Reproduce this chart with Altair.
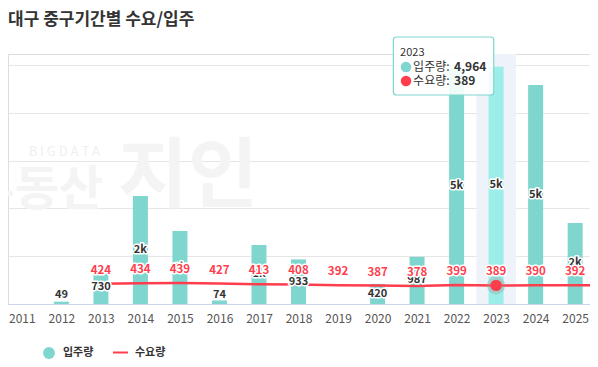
import altair as alt
import pandas as pd

# ---------------- data ----------------
years = list(range(2011, 2026))
supply = [None, 49, 730, 2260, 1525, 74, 1235, 933, None, 420, 987, 4940, 4964, 4580, 1695]
demand_years = list(range(2013, 2027))
demand = [424, 434, 439, 427, 413, 408, 392, 387, 378, 399, 389, 390, 392, 388]
x_ticks = list(range(2011, 2026))
y_grid = [1000, 2000, 3000, 4000, 5000]
hl_year = 2023
title_text = "대구 중구기간별 수요/입주"
supply_name = "입주량"
demand_name = "수요량"

TEAL = "#7fd6cf"
TEAL_HL = "#9deee8"
RED = "#ff3d4d"
FONT = "Noto Sans CJK KR"
WM = "#f4f4f4"

X_DOMAIN = [2010.776, 2025.249]
Y_DOMAIN = [0, 5230]

bars = pd.DataFrame({"year": years, "supply": supply}).dropna()
bars["label"] = bars["supply"].apply(lambda v: f"{round(v / 1000)}k" if v >= 1000 else f"{int(v)}")
bars["label_y"] = bars["supply"].apply(lambda v: max(v / 2, 190))
bars["state"] = bars["year"].apply(lambda y: "hover" if y == hl_year else "normal")

line = pd.DataFrame({"year": demand_years, "demand": demand})
line_lab = line[line["year"] <= 2025]
hl_sup = int(bars.loc[bars["year"] == hl_year, "supply"].iloc[0])
hl_dem = int(line.loc[line["year"] == hl_year, "demand"].iloc[0])
hl_pt = line[line["year"] == hl_year]

xscale = alt.Scale(domain=X_DOMAIN, nice=False, zero=False)
yscale = alt.Scale(domain=Y_DOMAIN, nice=False, zero=True)
xaxis = alt.Axis(values=x_ticks, format="d", grid=False, ticks=False, tickSize=0,
                 domainColor="#ccd6eb", domainWidth=1, labelFont=FONT, labelFontSize=12,
                 labelColor="#555555", labelPadding=9, title=None, labelFlush=False)
yaxis = alt.Axis(values=y_grid, labels=False, ticks=False, domain=False, grid=True,
                 gridColor="#e6e6e6", gridWidth=1, title=None)


def X(field):
    return alt.X(field, type="quantitative", scale=xscale, axis=xaxis)


def Y(field):
    return alt.Y(field, type="quantitative", scale=yscale, axis=yaxis)


one = pd.DataFrame({"a": [0]})

# watermark
wm1 = alt.Chart(one).mark_text(text="B  I  G  D  A  T  A", font=FONT, fontSize=13, color="#efefef",
                                align="right", baseline="middle").encode(x=alt.value(92), y=alt.value(98))
wm2 = alt.Chart(one).mark_text(text="부동산", font=FONT, fontSize=48, fontWeight="bold", color=WM,
                                align="right", baseline="middle").encode(x=alt.value(95), y=alt.value(137))
wm3 = alt.Chart(one).mark_text(text="지인", font=FONT, fontSize=76, fontWeight="bold", color=WM,
                                align="left", baseline="middle").encode(x=alt.value(110), y=alt.value(124))

band_df = pd.DataFrame({"x0": [hl_year - 0.5], "x1": [hl_year + 0.5], "y0": [0], "y1": [Y_DOMAIN[1]]})
band = alt.Chart(band_df).mark_rect(color="#eef2f9").encode(
    x=X("x0"), x2="x1", y=Y("y0"), y2="y1")

bar = alt.Chart(bars).mark_bar(size=15).encode(
    x=X("year"), y=Y("supply"),
    color=alt.Color("state:N", scale=alt.Scale(domain=["normal", "hover"], range=[TEAL, TEAL_HL]), legend=None))

ln = alt.Chart(line).mark_line(color=RED, strokeWidth=2.5, clip=True).encode(x=X("year"), y=Y("demand"))
pt_halo = alt.Chart(hl_pt).mark_circle(color="#999999", opacity=0.35, size=330).encode(x=X("year"), y=Y("demand"))
pt = alt.Chart(hl_pt).mark_circle(color=RED, opacity=1, size=130).encode(x=X("year"), y=Y("demand"))

blab_halo = alt.Chart(bars).mark_text(font=FONT, fontSize=11, fontWeight="bold", stroke="white", strokeWidth=3,
                                       strokeJoin="round", color="white", baseline="middle").encode(
    x=X("year"), y=Y("label_y"), text="label:N")
blab = alt.Chart(bars).mark_text(font=FONT, fontSize=11, fontWeight="bold", color="#333333", baseline="middle").encode(
    x=X("year"), y=Y("label_y"), text="label:N")

llab_halo = alt.Chart(line_lab).mark_text(font=FONT, fontSize=11.5, fontWeight="bold", stroke="white", strokeWidth=3,
                                           strokeJoin="round", color="white", baseline="middle", dy=-13).encode(
    x=X("year"), y=Y("demand"), text="demand:Q")
llab = alt.Chart(line_lab).mark_text(font=FONT, fontSize=11.5, fontWeight="bold", color=RED, baseline="middle",
                                     dy=-13).encode(x=X("year"), y=Y("demand"), text="demand:Q")

# tooltip (anchored to the highlighted year)
tip_box_df = pd.DataFrame({"x0": [hl_year - 2.60], "x1": [hl_year - 0.06], "y0": [4372], "y1": [5586]})
tip_box = alt.Chart(tip_box_df).mark_rect(fill="white", fillOpacity=0.88, stroke=TEAL, strokeWidth=1.2,
                                          cornerRadius=3).encode(x=X("x0"), x2="x1", y=Y("y0"), y2="y1")
tip_rows = pd.DataFrame({
    "xd": [hl_year - 2.28, hl_year - 2.28],
    "xt": [hl_year - 2.10, hl_year - 2.10],
    "y": [4958, 4665],
    "name": [supply_name + ":", demand_name + ":"],
    "val": [f"{hl_sup:,}", f"{hl_dem:,}"],
    "c": ["s", "d"],
})
tip_year = alt.Chart(pd.DataFrame({"x": [hl_year - 2.43], "y": [5251], "t": [str(hl_year)]})).mark_text(
    font=FONT, fontSize=11, color="#333333", align="left", baseline="middle").encode(x=X("x"), y=Y("y"), text="t:N")
tip_dots = alt.Chart(tip_rows).mark_circle(size=110, opacity=1).encode(
    x=X("xd"), y=Y("y"),
    color=alt.Color("c:N", scale=alt.Scale(domain=["s", "d"], range=[TEAL, RED]), legend=None))
tip_names = alt.Chart(tip_rows).mark_text(font=FONT, fontSize=12, color="#333333", align="left",
                                          baseline="middle").encode(x=X("xt"), y=Y("y"), text="name:N")
tip_vals = alt.Chart(tip_rows).mark_text(font=FONT, fontSize=12, fontWeight="bold", color="#333333", align="left",
                                         baseline="middle", dx=41).encode(x=X("xt"), y=Y("y"), text="val:N")

# title
title = alt.Chart(one).mark_text(text=title_text, font=FONT, fontSize=17, fontWeight="bold", color="#333333",
                                 align="left", baseline="middle").encode(x=alt.value(0), y=alt.value(-34))

# legend
lg_dot = alt.Chart(one).mark_circle(color=TEAL, size=140, opacity=1).encode(x=alt.value(41), y=alt.value(299))
lg_t1 = alt.Chart(one).mark_text(text=supply_name, font=FONT, fontSize=11, fontWeight="bold", color="#333333",
                                 align="left", baseline="middle").encode(x=alt.value(55), y=alt.value(299))
lg_line = alt.Chart(one).mark_rule(color=RED, strokeWidth=2).encode(x=alt.value(105), x2=alt.value(120),
                                                                    y=alt.value(298.5))
lg_t2 = alt.Chart(one).mark_text(text=demand_name, font=FONT, fontSize=11, fontWeight="bold", color="#333333",
                                 align="left", baseline="middle").encode(x=alt.value(127), y=alt.value(299))

chart = alt.layer(
    wm1, wm2, wm3, band, bar, ln, pt_halo, pt, blab_halo, blab, llab_halo, llab,
    tip_box, tip_year, tip_dots, tip_names, tip_vals, title, lg_dot, lg_t1, lg_line, lg_t2
).resolve_scale(color="independent").properties(
    width=582, height=250,
    padding={"left": 0, "top": 46, "right": 0, "bottom": 60},
    autosize="none",
).configure_view(stroke=None).configure(background="white")

chart.save("out.html", embed_options={"renderer": "svg", "actions": False})
